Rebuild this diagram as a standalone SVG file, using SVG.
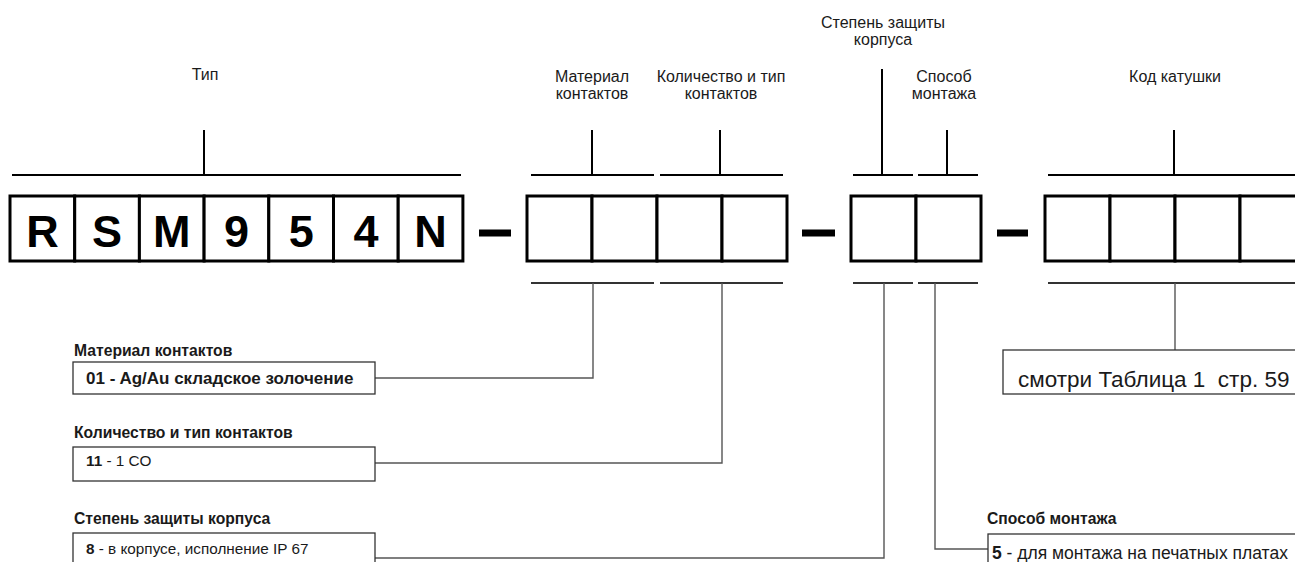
<svg xmlns="http://www.w3.org/2000/svg" width="1295" height="562" viewBox="0 0 1295 562">
<style>
.cell{fill:#fff;stroke:#000;stroke-width:3}
.big{font-family:"Liberation Sans",Arial,sans-serif;font-weight:bold;font-size:45px;fill:#000;text-anchor:middle}
.lbl{font-family:"Liberation Sans",Arial,sans-serif;font-size:16px;fill:#1a1a1a;text-anchor:middle}
.hd{font-family:"Liberation Sans",Arial,sans-serif;font-weight:bold;font-size:15.7px;fill:#1a1a1a}
.bx{font-family:"Liberation Sans",Arial,sans-serif;font-size:15.3px;fill:#1a1a1a}
.b{font-weight:bold}
.top{stroke:#000;stroke-width:2;fill:none}
.bot{stroke:#333;stroke-width:2;fill:none}
.con{stroke:#555;stroke-width:1.4;fill:none}
.box{fill:#fff;stroke:#333;stroke-width:1.3}
.dash{fill:#000}
</style>
<rect width="1295" height="562" fill="#fff"/>
<g id="connectors">
<path class="top" d="M12 175H461M204 130V175"/>
<path class="top" d="M531 175H654M592 130V175"/>
<path class="top" d="M660 175H783M720 130V175"/>
<path class="top" d="M853 175H913M882 69V175"/>
<path class="top" d="M918 175H978M947 130V175"/>
<path class="top" d="M1048 175H1300M1174 130V175"/>
<path class="bot" d="M531 283H654M660 283H783M853 283H913M918 283H978M1048 283H1300"/>
<path class="con" d="M375 378H593V283"/>
<path class="con" d="M375 463H722V283"/>
<path class="con" d="M375 558H884V283"/>
<path class="con" d="M935 283V549H988"/>
<path class="con" d="M1175 283V350"/>
</g>
<g id="labels">
<text class="lbl" x="205" y="80">Тип</text>
<text class="lbl" x="592" y="82">Материал</text>
<text class="lbl" x="592" y="99">контактов</text>
<text class="lbl" x="721" y="82">Количество и тип</text>
<text class="lbl" x="721" y="99">контактов</text>
<text class="lbl" x="883" y="28">Степень защиты</text>
<text class="lbl" x="883" y="45">корпуса</text>
<text class="lbl" x="944" y="82">Способ</text>
<text class="lbl" x="944" y="99">монтажа</text>
<text class="lbl" x="1175" y="82">Код катушки</text>
</g>
<g id="type-code">
<rect class="cell" x="10" y="196" width="64.7" height="65"/>
<rect class="cell" x="74.7" y="196" width="64.7" height="65"/>
<rect class="cell" x="139.4" y="196" width="64.7" height="65"/>
<rect class="cell" x="204.1" y="196" width="64.7" height="65"/>
<rect class="cell" x="268.8" y="196" width="64.7" height="65"/>
<rect class="cell" x="333.5" y="196" width="64.7" height="65"/>
<rect class="cell" x="398.2" y="196" width="64.7" height="65"/>
<text class="big" x="42.4" y="247">R</text>
<text class="big" x="107.1" y="247">S</text>
<text class="big" x="171.8" y="247">M</text>
<text class="big" x="236.5" y="247">9</text>
<text class="big" x="301.2" y="247">5</text>
<text class="big" x="365.9" y="247">4</text>
<text class="big" x="430.6" y="247">N</text>
</g>
<rect class="dash" x="479" y="229.5" width="32" height="7"/>
<g id="contacts-cells">
<rect class="cell" x="527" y="196" width="65" height="65"/>
<rect class="cell" x="592" y="196" width="65" height="65"/>
<rect class="cell" x="657" y="196" width="65" height="65"/>
<rect class="cell" x="722" y="196" width="65" height="65"/>
</g>
<rect class="dash" x="802" y="229.5" width="33" height="7"/>
<g id="protection-mount-cells">
<rect class="cell" x="851" y="196" width="65" height="65"/>
<rect class="cell" x="916" y="196" width="65" height="65"/>
</g>
<rect class="dash" x="997" y="229.5" width="31" height="7"/>
<g id="coil-cells">
<rect class="cell" x="1045" y="196" width="65" height="65"/>
<rect class="cell" x="1110" y="196" width="65" height="65"/>
<rect class="cell" x="1175" y="196" width="65" height="65"/>
<rect class="cell" x="1240" y="196" width="65" height="65"/>
</g>
<g id="material">
<text class="hd" x="74" y="356">Материал контактов</text>
<rect class="box" x="73" y="362" width="302" height="32"/>
<text class="bx b" x="86" y="384" style="font-size:17px">01 - Ag/Au складское золочение</text>
</g>
<g id="quantity">
<text class="hd" x="74" y="438">Количество и тип контактов</text>
<rect class="box" x="73" y="447" width="302" height="34"/>
<text class="bx" x="86" y="466"><tspan class="b">11</tspan> - 1 CO</text>
</g>
<g id="protection">
<text class="hd" x="74" y="524">Степень защиты корпуса</text>
<rect class="box" x="73" y="533" width="302" height="40"/>
<text class="bx" x="86" y="554"><tspan class="b">8</tspan> - в корпусе, исполнение IP 67</text>
</g>
<g id="mounting">
<text class="hd" x="987" y="524">Способ монтажа</text>
<rect class="box" x="988" y="534" width="330" height="40"/>
<text class="bx" x="992" y="559" style="font-size:17.5px"><tspan class="b">5</tspan> - для монтажа на печатных платах</text>
</g>
<g id="coil">
<rect class="box" x="1003" y="350" width="300" height="44"/>
<text class="bx" x="1018" y="387" style="font-size:22.5px" xml:space="preserve">смотри Таблица 1  стр. 59</text>
</g>
</svg>
